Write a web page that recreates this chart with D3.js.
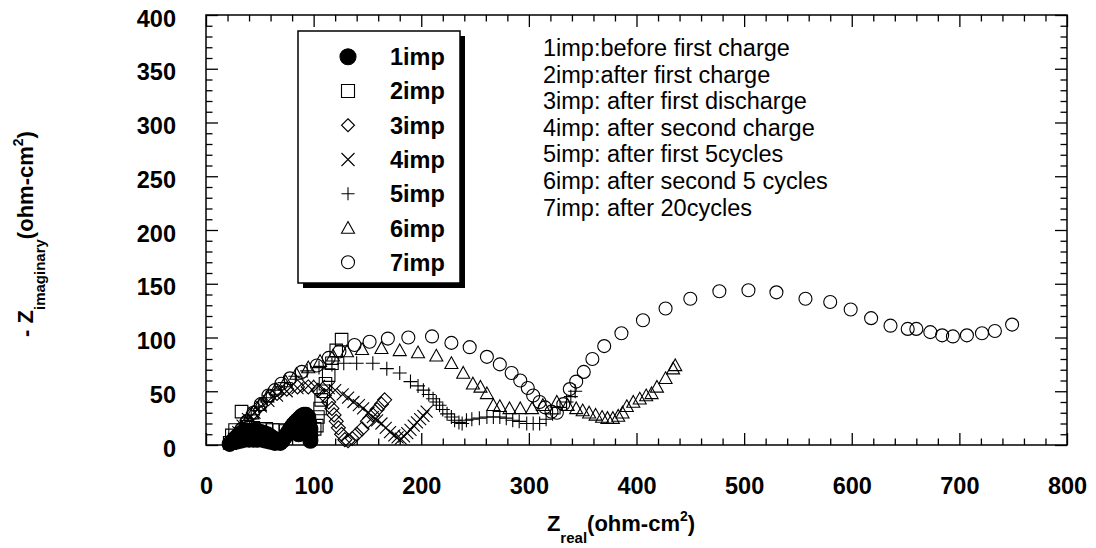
<!DOCTYPE html>
<html>
<head>
<meta charset="utf-8">
<script src="https://cdn.jsdelivr.net/npm/d3@7/dist/d3.min.js"></script>
<style>
  body { margin: 0; background: #fff; }
  text { font-family: Arial, "Liberation Sans", sans-serif; fill: #000; }
</style>
</head>
<body>
<script>
// Z' (real) , Z'' (-imaginary) pairs
var imp1 = [[22,1],[24,3],[26,5],[28,7],[30,9],[33,11],[36,12],[39,13],[42,13],[45,13],[48,13],[51,12],[54,11],[57,10],
  [60,8],[63,6],[66,4],[69,2],[28,3],[32,4],[36,5],[40,5],[44,5],[48,5],[52,5],[56,4],[60,3],[64,2],[36,8],[44,9],[52,8],
  [71,4],[73,7],[75,10],[77,13],[79,16],[81,19],[83,21],[85,23],[87,25],[89,27],[91,28],[93,28],[95,26],[96,21],[97,15],
  [97,9],[97,4],[90,14],[86,10],[93,19],[90,21],[94,10]];
var imp2 = [[22,2],[24,9],[27,14],[33,31],[38,17],[44,16],[50,15],[56,15],[62,14],[68,14],[74,13],[80,13],[86,12],[92,12],
  [97,13],[101,15],[103,18],[104,26],[106,34],[107,42],[109,50],[111,57],[114,65],[117,76],[121,88],[126,98]];
var imp3 = [[26,4],[29,10],[33,16],[38,23],[44,30],[51,37],[58,43],[66,48],[75,52],[85,54],[95,54],[104,51],[110,46],
  [114,40],[117,34],[119,28],[121,22],[123,16],[126,10],[129,5],[132,4],[136,6],[140,10],[145,15],[150,22],[155,28],
  [159,33],[163,38],[166,42]];
var imp4 = [[23,1],[26,6],[30,12],[34,18],[39,24],[45,30],[51,36],[58,41],[66,46],[75,50],[85,53],[95,55],[105,55],
  [114,53],[120,51],[127,47],[132,44],[137,40],[142,37],[146,34],[151,30],[155,26],[159,23],[163,20],[167,16],[171,12],
  [175,9],[178,7],[181,6],[184,8],[187,11],[190,14],[193,18],[196,21],[199,24],[202,27],[205,31]];
var imp5 = [[24,2],[27,7],[31,13],[36,20],[42,28],[49,36],[56,44],[64,51],[73,58],[83,64],[94,69],[105,72],[117,75],
  [128,76],[140,76],[155,76],[168,71],[180,67],[190,59],[197,55],[202,51],[207,47],[211,43],[214,40],[217,37],[220,33],
  [224,29],[228,26],[231,23],[235,21],[238,20],[242,23],[247,24],[254,25],[261,26],[267,26],[273,26],[279,25],[285,23],
  [291,22],[298,20],[304,20],[310,20],[316,24],[322,29],[329,35],[335,40],[339,45],[343,50]];
var imp6 = [[25,3],[28,8],[32,14],[37,21],[43,29],[50,37],[57,45],[65,52],[74,59],[84,66],[95,72],[106,78],[118,83],
  [131,87],[145,89],[163,90],[180,88],[197,86],[214,83],[228,76],[239,67],[248,57],[255,54],[261,48],[267,37],[273,36],
  [282,34],[292,34],[303,34],[313,37],[326,40],[336,37],[344,34],[350,32],[356,30],[362,28],[368,26],[373,25],[378,25],
  [383,27],[387,30],[391,36],[397,40],[403,43],[409,46],[414,48],[419,54],[427,62],[434,71],[436,74]];
var imp7 = [[26,4],[29,9],[33,15],[38,22],[44,30],[51,38],[58,46],[64,51],[70,57],[78,62],[89,68],[103,74],[114,81],
  [124,87],[138,93],[152,96],[169,99],[188,100],[210,101],[228,95],[245,91],[261,82],[273,75],[284,67],[292,60],[299,53],
  [304,46],[310,40],[315,35],[321,31],[326,30],[332,38],[338,52],[344,59],[351,68],[359,80],[370,92],[386,104],[406,116],
  [427,127],[450,136],[477,143],[504,144],[530,142],[557,136],[580,133],[599,126],[618,118],[636,111],[652,108],[660,108],
  [673,105],[684,102],[694,101],[707,102],[721,104],[733,106],[749,112]];

var seriesData = [imp1, imp2, imp3, imp4, imp5, imp6, imp7];
var seriesNames = ["1imp", "2imp", "3imp", "4imp", "5imp", "6imp", "7imp"];
var seriesSymbols = ["disc", "square", "diamond", "cross", "plus", "triangle", "circle"];
var notes = ["1imp:before first charge", "2imp:after first charge", "3imp: after first discharge",
  "4imp: after second charge", "5imp: after first 5cycles", "6imp: after second 5 cycles", "7imp: after 20cycles"];
var xTicks = [0, 100, 200, 300, 400, 500, 600, 700, 800];
var yTicks = [0, 50, 100, 150, 200, 250, 300, 350, 400];

var width = 1096, height = 548;
var svg = d3.select("body").append("svg")
    .attr("width", width)
    .attr("height", height);

var x = d3.scaleLinear().domain([0, 800]).range([206, 1067]);
var y = d3.scaleLinear().domain([0, 400]).range([445, 15]);

var markerSize = { disc: 15, square: 12.5, diamond: 14, cross: 12, plus: 14, triangle: 13, circle: 13 };

// outline shapes, centred on 0,0
function markerPath(type, s) {
    var r = s / 2;
    if (type == "disc" || type == "circle")
        return "M" + (-r) + ",0A" + r + "," + r + " 0 1,0 " + r + ",0A" + r + "," + r + " 0 1,0 " + (-r) + ",0Z";
    if (type == "square") return "M" + (-r) + "," + (-r) + "H" + r + "V" + r + "H" + (-r) + "Z";
    if (type == "diamond") return "M0," + (-r) + "L" + r + ",0L0," + r + "L" + (-r) + ",0Z";
    if (type == "cross") return "M" + (-r) + "," + (-r) + "L" + r + "," + r + "M" + r + "," + (-r) + "L" + (-r) + "," + r;
    if (type == "plus") return "M" + (-r) + ",0H" + r + "M0," + (-r) + "V" + r;
    if (type == "triangle") return "M0," + (-r) + "L" + r + "," + (r * 0.8) + "L" + (-r) + "," + (r * 0.8) + "Z";
}

// axes: inward ticks, majors + minors, mirrored on top / right
function drawAxis(gen, tr) {
    var g = svg.append("g").attr("transform", tr).call(gen);
    g.select(".domain").remove();
    g.selectAll(".tick line").attr("stroke", "#000").attr("stroke-width", 1.3);
    return g;
}

var xMinor = d3.range(0, 801, 20).filter(function(d) { return d % 100; });
var yMinor = d3.range(0, 401, 10).filter(function(d) { return d % 50; });

var gx = drawAxis(d3.axisBottom(x).tickValues(xTicks).tickSize(-12).tickSizeOuter(0).tickPadding(32).tickFormat(d3.format("d")), "translate(0,445)");
drawAxis(d3.axisBottom(x).tickValues(xMinor).tickSize(-6.5).tickSizeOuter(0).tickFormat(""), "translate(0,445)");
drawAxis(d3.axisTop(x).tickValues(xTicks).tickSize(-12).tickSizeOuter(0).tickFormat(""), "translate(0,15)");
drawAxis(d3.axisTop(x).tickValues(xMinor).tickSize(-6.5).tickSizeOuter(0).tickFormat(""), "translate(0,15)");

var gy = drawAxis(d3.axisLeft(y).tickValues(yTicks).tickSize(-12).tickSizeOuter(0).tickPadding(30).tickFormat(d3.format("d")), "translate(206,0)");
drawAxis(d3.axisLeft(y).tickValues(yMinor).tickSize(-6.5).tickSizeOuter(0).tickFormat(""), "translate(206,0)");
drawAxis(d3.axisRight(y).tickValues(yTicks).tickSize(-12).tickSizeOuter(0).tickFormat(""), "translate(1067,0)");
drawAxis(d3.axisRight(y).tickValues(yMinor).tickSize(-6.5).tickSizeOuter(0).tickFormat(""), "translate(1067,0)");

gx.selectAll(".tick text").attr("font-size", "23.5px").attr("font-weight", "bold")
    .attr("font-family", "Arial, 'Liberation Sans', sans-serif");
gy.selectAll(".tick text").attr("font-size", "23.5px").attr("font-weight", "bold").attr("dy", "0.47em")
    .attr("font-family", "Arial, 'Liberation Sans', sans-serif");

// frame
svg.append("rect")
    .attr("x", x(0)).attr("y", y(400))
    .attr("width", x(800) - x(0)).attr("height", y(0) - y(400))
    .attr("fill", "none").attr("stroke", "#000").attr("stroke-width", 1.5);

// data points
seriesData.forEach(function(data, i) {
    var type = seriesSymbols[i];
    svg.append("g").selectAll("path")
        .data(data)
        .enter()
        .append("path")
        .attr("d", markerPath(type, markerSize[type]))
        .attr("transform", function(d) { return "translate(" + x(d[0]) + "," + y(d[1]) + ")"; })
        .attr("fill", type == "disc" ? "#000" : "none")
        .attr("stroke", "#000")
        .attr("stroke-width", 1.1);
});

// legend box with drop shadow
var lg = svg.append("g");
lg.append("rect").attr("x", 303).attr("y", 36).attr("width", 162).attr("height", 252).attr("fill", "#000");
lg.append("rect").attr("x", 298).attr("y", 31).attr("width", 162).attr("height", 252)
    .attr("fill", "#fff").attr("stroke", "#000").attr("stroke-width", 1.5);
seriesNames.forEach(function(name, i) {
    var cy = 56.7 + i * 34.27;
    var type = seriesSymbols[i];
    lg.append("path")
        .attr("d", markerPath(type, type == "disc" ? 16 : 13))
        .attr("transform", "translate(348," + cy + ")")
        .attr("fill", type == "disc" ? "#000" : "none")
        .attr("stroke", "#000").attr("stroke-width", 1.1);
    lg.append("text").attr("x", 390).attr("y", cy).attr("dy", "0.36em")
        .attr("font-size", "23.5px").attr("font-weight", "bold").text(name);
});

// notes on the right
svg.append("g").selectAll("text")
    .data(notes)
    .enter()
    .append("text")
    .attr("x", 543)
    .attr("y", function(d, i) { return 56 + i * 26.6; })
    .attr("font-size", "23.5px")
    .text(function(d) { return d; });

// axis titles
var xt = svg.append("text").attr("x", 621).attr("y", 531).attr("text-anchor", "middle")
    .attr("font-weight", "bold").attr("font-size", "22px");
xt.append("tspan").text("Z");
xt.append("tspan").attr("font-size", "15px").attr("dy", 12).text("real");
xt.append("tspan").attr("dy", -12).text("(ohm-cm");
xt.append("tspan").attr("font-size", "14px").attr("dy", -10).text("2");
xt.append("tspan").attr("dy", 10).text(")");

var yt = svg.append("text").attr("transform", "translate(33,234) rotate(-90)").attr("text-anchor", "middle")
    .attr("font-weight", "bold").attr("font-size", "22px");
yt.append("tspan").text("- Z");
yt.append("tspan").attr("font-size", "15px").attr("dy", 12).text("imaginary");
yt.append("tspan").attr("dy", -12).text("(ohm-cm");
yt.append("tspan").attr("font-size", "14px").attr("dy", -10).text("2");
yt.append("tspan").attr("dy", 10).text(")");
</script>
</body>
</html>
